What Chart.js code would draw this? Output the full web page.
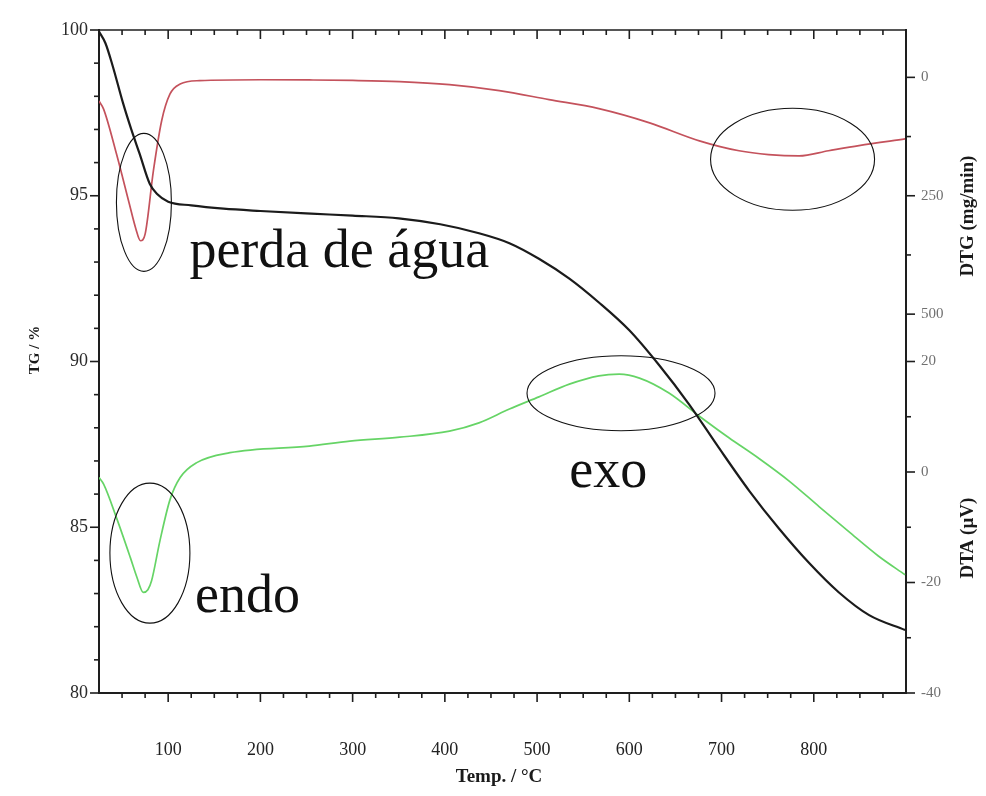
<!DOCTYPE html>
<html>
<head>
<meta charset="utf-8">
<script src="https://cdn.jsdelivr.net/npm/chart.js@4.4.1/dist/chart.umd.min.js"></script>
<style>
  html, body { margin: 0; padding: 0; background: #fff; }
  #wrap { position: relative; width: 986px; height: 796px; }
</style>
</head>
<body>
<div id="wrap"><canvas id="termica"></canvas></div>
<script>
// temperatura (°C) e curvas TG / DTG / DTA
const tgTemp = [25, 32, 40, 51, 60, 69, 80, 88, 100, 125, 160, 200, 255, 300, 350, 395, 437, 470, 502, 535, 567, 600, 632, 665, 697, 730, 762, 795, 827, 860, 899];
const tgValue = [99.95, 99.6, 98.9, 97.8, 97.0, 96.27, 95.36, 95.05, 94.82, 94.71, 94.61, 94.54, 94.46, 94.4, 94.32, 94.14, 93.87, 93.57, 93.1, 92.5, 91.78, 90.94, 89.9, 88.7, 87.4, 86.1, 84.97, 83.92, 83.04, 82.35, 81.9];

const dtgTemp = [25, 30, 44, 58, 65, 70, 75, 84, 93, 102, 113, 134, 200, 253, 300, 351, 405, 459, 513, 567, 622, 676, 719, 751, 784, 816, 849, 899];
const dtgValue = [50, 67, 162, 268, 320, 345, 331, 197, 91, 35, 14, 7, 5, 5.5, 6.5, 9, 15.5, 28, 47, 66, 96, 134, 155, 163, 166, 155, 144, 130];

const dtaTemp = [25, 30, 44, 59, 66, 73, 78, 82, 91, 102, 113, 131, 167, 253, 297, 351, 405, 437, 470, 502, 535, 567, 589, 611, 643, 676, 708, 741, 773, 806, 838, 870, 899];
const dtaValue = [-1, -2.2, -8.3, -15.5, -19, -21.8, -21.3, -19.7, -12.5, -5, -1, 1.7, 3.5, 4.7, 5.6, 6.3, 7.4, 8.9, 11.4, 13.6, 15.9, 17.4, 17.7, 17, 14.3, 10.1, 6.2, 2.4, -1.6, -6.3, -10.8, -15.2, -18.6];

// marcas dos eixos
const tempTicks = [];
for (let t = 25; t <= 900; t += 25) tempTicks.push(t);
const tgTicks = [80, 81, 82, 83, 84, 85, 86, 87, 88, 89, 90, 91, 92, 93, 94, 95, 96, 97, 98, 99, 100];
const dtgTicks = [0, 125, 250, 375, 500];
const dtaTicks = [-40, -30, -20, -10, 0, 10, 20];

const serif = "'Liberation Serif', 'Times New Roman', serif";
const tempMin = 25, tempMax = 900;

function pairs(xs, ys) {
  return xs.map((x, i) => ({ x: x, y: ys[i] }));
}

// notas sobre o gráfico: [texto, temp, TG da linha de base]
const notes = [
  ['perda de água', 123, 92.85],
  ['endo', 129, 82.45],
  ['exo', 535, 86.22]
];
// elipses: [temp, TG do centro, raio x, raio y]
const rings = [
  [73.7, 94.8, 27.5, 69],
  [80.2, 84.22, 40, 70],
  [591, 89.04, 94, 37.5],
  [777, 96.1, 82, 51]
];

const frame = {
  id: 'frame',
  afterDraw(chart) {
    const { ctx, chartArea: area, scales } = chart;
    ctx.save();
    ctx.strokeStyle = '#1e1e1e';
    ctx.lineWidth = 1.6;
    const seg = (x1, y1, x2, y2) => {
      ctx.beginPath(); ctx.moveTo(x1, y1); ctx.lineTo(x2, y2); ctx.stroke();
    };
    seg(area.left, area.top, area.right, area.top);

    scales.x.ticks.forEach(t => {
      if (t.value <= tempMin || t.value >= tempMax) return;
      const px = scales.x.getPixelForValue(t.value);
      const len = t.value % 100 === 0 ? 9 : 5;
      seg(px, area.bottom, px, area.bottom + len);
      seg(px, area.top, px, area.top + len);
    });
    scales.y.ticks.forEach(t => {
      const py = scales.y.getPixelForValue(t.value);
      const len = t.value % 5 === 0 ? 9 : 5;
      seg(area.left - len, py, area.left, py);
    });
    scales.dtg.ticks.forEach(t => {
      const py = scales.dtg.getPixelForValue(t.value);
      const len = t.value % 250 === 0 ? 9 : 5;
      seg(area.right, py, area.right + len, py);
    });
    scales.dta.ticks.forEach(t => {
      const py = scales.dta.getPixelForValue(t.value);
      const len = t.value % 20 === 0 ? 9 : 5;
      seg(area.right, py, area.right + len, py);
    });

    // elipses e textos
    ctx.lineWidth = 1.1;
    ctx.strokeStyle = '#111';
    rings.forEach(([t, v, rx, ry]) => {
      ctx.beginPath();
      ctx.ellipse(scales.x.getPixelForValue(t), scales.y.getPixelForValue(v), rx, ry, 0, 0, Math.PI * 2);
      ctx.stroke();
    });
    ctx.fillStyle = '#111';
    ctx.font = '54px ' + serif;
    ctx.textBaseline = 'alphabetic';
    notes.forEach(([txt, t, v]) => {
      ctx.fillText(txt, scales.x.getPixelForValue(t), scales.y.getPixelForValue(v));
    });

    // títulos dos eixos
    ctx.fillStyle = '#1a1a1a';
    ctx.textAlign = 'center';
    ctx.textBaseline = 'middle';
    ctx.font = 'bold 19px ' + serif;
    ctx.fillText('Temp. / °C', 499, 777);
    const vertical = (txt, x, y, size) => {
      ctx.save();
      ctx.translate(x, y);
      ctx.rotate(-Math.PI / 2);
      ctx.font = 'bold ' + size + 'px ' + serif;
      ctx.fillText(txt, 0, 0);
      ctx.restore();
    };
    vertical('TG / %', 35, 350, 15);
    vertical('DTG (mg/min)', 968, 216, 19);
    vertical('DTA (µV)', 968, 538, 19);
    ctx.restore();
  }
};

const axisGrid = { display: false, drawTicks: true, tickLength: 9 };
const axisBorder = { display: true, color: '#1e1e1e', width: 2 };

new Chart(document.getElementById('termica'), {
  type: 'line',
  data: {
    datasets: [
      {
        label: 'TG',
        data: pairs(tgTemp, tgValue),
        yAxisID: 'y',
        borderColor: '#1b1b1b',
        borderWidth: 2.2
      },
      {
        label: 'DTG',
        data: pairs(dtgTemp, dtgValue),
        yAxisID: 'dtg',
        borderColor: '#c4525c',
        borderWidth: 1.7
      },
      {
        label: 'DTA',
        data: pairs(dtaTemp, dtaValue),
        yAxisID: 'dta',
        borderColor: '#66d466',
        borderWidth: 1.7
      }
    ]
  },
  options: {
    responsive: true,
    maintainAspectRatio: false,
    animation: false,
    layout: { padding: { top: 30, left: 0, right: 0, bottom: 0 } },
    elements: {
      point: { radius: 0 },
      line: { cubicInterpolationMode: 'monotone', fill: false }
    },
    plugins: {
      legend: { display: false },
      tooltip: { enabled: false }
    },
    scales: {
      x: {
        type: 'linear',
        position: 'bottom',
        min: tempMin,
        max: tempMax,
        afterBuildTicks: s => { s.ticks = tempTicks.map(v => ({ value: v })); },
        afterFit: s => { s.height = 103; },
        grid: axisGrid,
        border: axisBorder,
        ticks: {
          autoSkip: false,
          maxRotation: 0,
          padding: 37,
          color: '#222',
          font: { family: serif, size: 18 },
          callback: v => (v % 100 === 0 && v < tempMax) ? v : ''
        }
      },
      y: {
        position: 'left',
        min: 80,
        max: 100,
        afterBuildTicks: s => { s.ticks = tgTicks.map(v => ({ value: v })); },
        afterFit: s => { s.width = 99; },
        grid: axisGrid,
        border: axisBorder,
        ticks: {
          autoSkip: false,
          padding: 2,
          color: '#2a2a2a',
          font: { family: serif, size: 18 },
          callback: v => v % 5 === 0 ? v : ''
        }
      },
      dtg: {
        position: 'right',
        stack: 'direita',
        stackWeight: 1,
        reverse: true,
        min: -100,
        max: 600,
        afterBuildTicks: s => { s.ticks = dtgTicks.map(v => ({ value: v })); },
        afterFit: s => { s.width = 80; },
        grid: axisGrid,
        border: axisBorder,
        ticks: {
          autoSkip: false,
          padding: 6,
          color: '#707070',
          font: { family: serif, size: 15 },
          callback: v => v % 250 === 0 ? v : ''
        }
      },
      dta: {
        position: 'right',
        stack: 'direita',
        stackWeight: 1,
        min: -40,
        max: 20,
        afterBuildTicks: s => { s.ticks = dtaTicks.map(v => ({ value: v })); },
        afterFit: s => { s.width = 80; },
        grid: axisGrid,
        border: axisBorder,
        ticks: {
          autoSkip: false,
          padding: 6,
          color: '#707070',
          font: { family: serif, size: 15 },
          callback: v => v % 20 === 0 ? v : ''
        }
      }
    }
  },
  plugins: [frame]
});
</script>
</body>
</html>
